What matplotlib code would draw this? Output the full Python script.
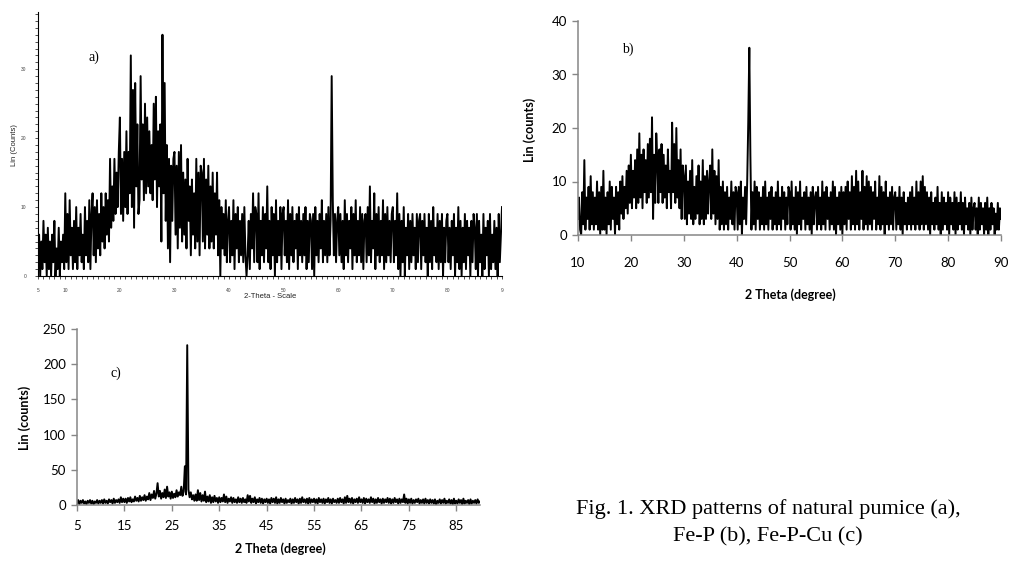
import numpy as np
import matplotlib
matplotlib.use('Agg')
import matplotlib.pyplot as plt
from matplotlib.ticker import MultipleLocator

W, H = 1011, 561

# a) natural pumice, 5-90 deg, 0.2 deg step
thetaA = np.arange(5, 90.001, 0.2)
countsA = [3,6,0,5,1,8,2,6,0,7,1,5,0,6,2,8,0,4,1,7,0,5,2,6,1,
           12,2,9,1,11,3,7,1,8,2,10,1,7,3,9,2,6,1,10,3,8,2,11,1,9,
           12,3,10,2,11,4,9,3,12,5,10,4,12,6,11,5,17,7,13,8,17,9,15,10,18,
           23,9,17,8,18,10,21,9,18,12,32,10,27,7,28,13,22,9,11,29,14,22,11,25,12,
           23,13,21,12,19,11,25,14,26,10,21,13,22,5,35,12,28,8,19,4,17,2,16,8,17,
           18,6,16,4,18,7,19,5,15,6,14,4,17,8,13,3,14,6,12,4,17,5,15,3,16,
           15,5,17,4,14,6,16,4,13,5,15,4,12,6,15,3,11,0,10,4,9,3,11,2,8,
           10,2,8,3,11,1,9,4,10,2,8,3,9,2,10,3,0,3,8,1,9,4,12,2,10,
           9,2,12,1,8,3,10,2,9,4,13,2,8,1,10,3,9,0,11,2,8,3,10,1,9,
           10,3,8,2,11,1,9,3,10,2,8,4,9,1,10,3,8,2,9,3,10,1,8,2,9,
           8,1,9,0,10,3,8,2,9,4,11,2,8,3,9,2,10,3,8,29,11,3,9,2,8,
           10,3,9,2,8,1,11,3,9,2,8,4,10,1,9,3,11,2,8,3,10,2,9,1,8,
           9,2,10,3,13,2,8,4,12,1,9,3,10,2,8,3,11,1,9,2,10,3,8,2,9,
           10,2,8,3,12,1,9,0,8,2,10,0,7,3,9,1,8,2,9,3,7,1,9,2,8,
           9,1,8,3,9,2,7,0,9,2,8,1,10,3,7,2,9,1,8,2,9,0,7,2,8,
           9,2,7,1,8,3,9,0,7,2,10,1,8,0,7,2,9,1,8,3,7,0,8,2,9,
           7,1,9,0,8,2,6,0,9,1,7,3,8,0,9,1,6,2,8,1,7,0,9,2,6,
           10]

# b) Fe-P, 10-90 deg, 0.2 deg step
thetaB = np.arange(10, 90.001, 0.2)
countsB = [3,7,1,0,8,2,14,1,7,3,9,1,11,2,8,1,7,2,10,1,8,0,9,1,12,
           1,7,0,8,2,10,1,9,3,7,0,9,2,8,1,10,4,11,3,9,5,12,4,13,6,
           15,5,12,7,14,5,16,6,19,7,15,5,16,8,14,6,17,7,18,8,22,3,15,6,19,
           14,6,16,8,17,6,15,7,13,5,16,8,12,5,21,8,17,6,20,7,14,5,16,3,13,
           11,3,13,2,10,4,12,3,14,2,9,3,11,4,13,2,10,3,14,2,11,3,12,4,10,
           13,3,16,4,12,2,11,3,14,1,9,2,10,1,8,2,9,1,7,3,10,2,8,1,9,
           8,1,9,2,10,0,7,3,9,2,10,21,35,15,1,8,2,10,1,9,3,8,1,7,2,
           9,1,10,2,7,1,8,3,9,1,7,2,8,1,10,2,7,1,9,3,8,1,7,2,9,
           8,1,10,2,7,1,9,0,8,2,10,1,7,3,8,1,9,2,7,1,8,0,9,2,7,
           8,1,9,2,7,1,10,2,8,1,9,3,7,1,8,2,10,1,9,0,7,2,8,1,9,
           0,8,2,9,1,10,3,8,1,11,2,9,1,12,2,10,1,8,3,12,1,9,2,11,1,
           10,2,9,1,8,3,10,1,7,2,11,1,9,2,8,0,10,2,7,1,8,2,9,1,7,
           8,1,7,2,9,1,7,0,8,2,6,1,7,2,8,1,9,2,7,1,10,2,8,1,10,
           2,11,1,9,2,8,1,7,0,8,2,6,1,7,2,9,1,6,0,8,1,7,2,6,1,
           8,0,7,2,6,1,8,0,7,1,6,2,8,1,6,0,7,2,5,1,6,0,7,1,5,
           6,1,5,0,7,1,6,2,5,0,6,1,7,0,5,1,6,2,5,0,4,1,6,1,5,
           3]

# c) Fe-P-Cu, 5-90 deg, 0.25 deg step
thetaC = np.arange(5, 90.001, 0.25)
countsC = [2,7,1,6,3,7,2,5,1,6,3,7,2,6,1,5,3,7,2,6,
           3,7,2,8,3,6,2,8,4,7,2,9,3,7,4,8,3,11,4,9,
           4,9,3,10,5,11,4,8,5,12,6,10,5,13,6,11,7,14,6,12,
           8,17,7,15,10,20,9,16,31,12,20,9,17,11,22,10,26,12,18,9,
           19,10,16,11,21,12,18,14,26,13,19,55,15,227,22,11,18,8,14,6,
           15,6,21,7,17,5,14,6,19,4,12,5,14,3,11,4,13,5,10,3,
           11,4,10,5,15,4,12,3,9,5,11,3,10,4,8,3,11,4,9,3,
           10,4,8,3,14,5,13,3,9,4,11,2,8,4,10,3,9,2,8,4,
           9,3,8,2,10,4,9,3,11,2,8,3,10,4,8,2,9,3,7,4,
           9,2,8,3,10,4,8,2,9,3,11,4,8,3,9,2,10,3,8,4,
           9,3,8,2,10,4,8,3,9,2,8,4,10,3,8,2,9,4,7,3,
           9,3,10,4,8,2,11,3,13,4,9,3,10,2,8,4,9,3,11,4,
           8,3,10,2,9,4,8,3,11,4,9,2,8,3,10,4,8,2,9,3,
           8,4,10,3,9,2,8,3,10,4,8,2,9,3,8,4,15,3,9,2,
           8,3,9,2,7,3,8,4,9,2,7,3,8,2,9,3,7,2,8,3,
           7,2,8,0,6,3,8,2,7,3,9,2,6,3,8,2,7,1,9,2,
           6,2,8,3,7,1,9,2,6,3,7,1,8,2,6,3,7,2,8,3,
           5]

ticksA = [5, 10, 20, 30, 40, 50, 60, 70, 80, 90]
tickLabelsA = ['5', '10', '20', '30', '40', '50', '60', '70', '80', '9']

plt.rcParams['font.family'] = ['Liberation Sans', 'DejaVu Sans']
fig = plt.figure(figsize=(W / 100, H / 100), dpi=100)

def box(l, t, r, b):
    return [l / W, 1 - b / H, (r - l) / W, (b - t) / H]

def ftext(x, y, s, **kw):
    fig.text(x / W, 1 - y / H, s, **kw)

# ---- a) instrument-style plot
ax1 = fig.add_axes(box(38, 12, 502, 276))
ax1.plot(thetaA, countsA, color='black', lw=1.4)
ax1.set_xlim(5, 90)
ax1.set_ylim(0, 38.3)
for s in ['top', 'right']:
    ax1.spines[s].set_visible(False)
for s in ['left', 'bottom']:
    ax1.spines[s].set_linewidth(0.8)
ax1.set_xticks(ticksA)
ax1.set_xticklabels(tickLabelsA)
ax1.set_yticks([0, 10, 20, 30])
ax1.xaxis.set_minor_locator(MultipleLocator(1))
ax1.yaxis.set_minor_locator(MultipleLocator(1))
ax1.tick_params(which='both', direction='out', length=2.5, width=0.6, labelsize=3.5,
                color='#333333', labelcolor='#444444', pad=6)
ax1.text(15.2, 31.7, 'a)', family='Liberation Serif', fontsize=10, va='center', ha='center')
ftext(270, 297, '2-Theta - Scale', fontsize=5.5, ha='center', va='center', color='#222222')
ftext(15, 145, 'Lin (Counts)', fontsize=5.5, ha='center', va='center', rotation=90, color='#222222')

# ---- b) and c) spreadsheet-style plots
def excel_axes(ax, xlim, ylim, xt, yt, xpad):
    ax.set_xlim(*xlim)
    ax.set_ylim(*ylim)
    ax.set_xticks(xt)
    ax.set_yticks(yt)
    for s in ['top', 'right']:
        ax.spines[s].set_visible(False)
    for s in ['left', 'bottom']:
        ax.spines[s].set_color('#868686')
        ax.spines[s].set_linewidth(1.1)
    ax.tick_params(direction='out', length=4, width=1, color='#868686', labelsize=9.5, pad=4)
    for lab in ax.get_xticklabels() + ax.get_yticklabels():
        lab.set_family('Lato')
    ax.tick_params(axis='x', pad=xpad)

ax2 = fig.add_axes(box(578, 21, 1001, 235))
ax2.plot(thetaB, countsB, color='black', lw=1.4)
excel_axes(ax2, (10, 90), (0, 40), range(10, 91, 10), range(0, 41, 10), 12)
ax2.text(19.5, 34.8, 'b)', family='Liberation Serif', fontsize=10, va='center', ha='center')
ftext(790, 295, '2 Theta (degree)', family='Lato', fontweight='bold', fontsize=9, ha='center', va='center')
ftext(530, 130, 'Lin (counts)', family='Lato', fontweight='bold', fontsize=9, ha='center', va='center', rotation=90)

ax3 = fig.add_axes(box(77, 329, 480, 505))
ax3.plot(thetaC, countsC, color='black', lw=1.4)
excel_axes(ax3, (5, 90), (0, 250), range(5, 90, 10), range(0, 251, 50), 7)
ax3.text(13.3, 187.5, 'c)', family='Liberation Serif', fontsize=10, va='center', ha='center')
ftext(280, 549, '2 Theta (degree)', family='Lato', fontweight='bold', fontsize=9, ha='center', va='center')
ftext(25, 418, 'Lin (counts)', family='Lato', fontweight='bold', fontsize=9, ha='center', va='center', rotation=90)

# caption
ftext(768, 514, 'Fig. 1. XRD patterns of natural pumice (a),', family='Liberation Serif',
      fontsize=16, ha='center', va='baseline')
ftext(768, 541, 'Fe-P (b), Fe-P-Cu (c)', family='Liberation Serif',
      fontsize=16, ha='center', va='baseline')

fig.savefig('out.png', dpi=100)
